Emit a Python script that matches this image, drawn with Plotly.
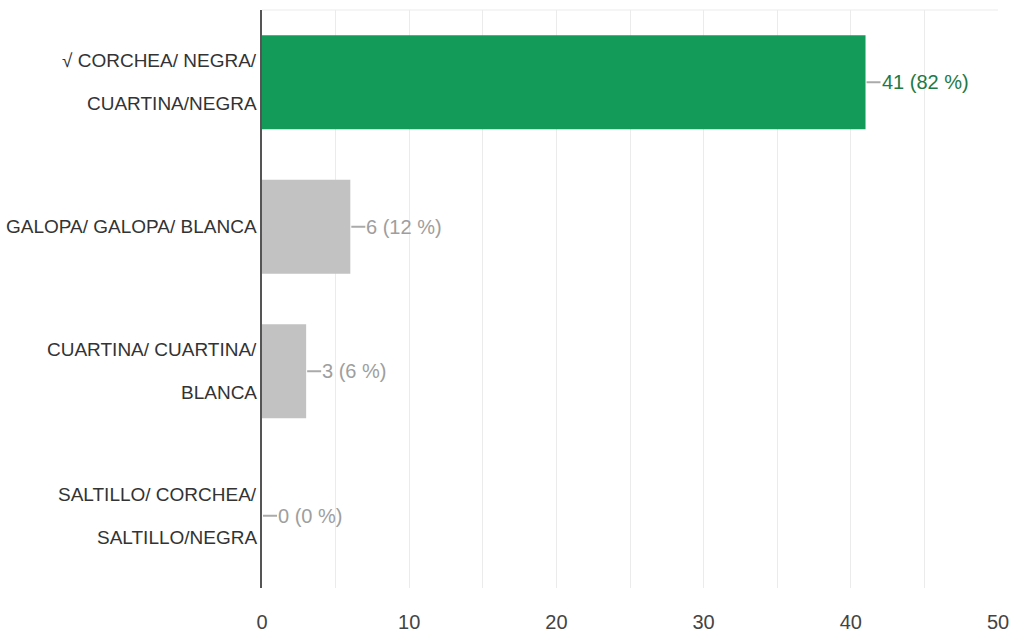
import plotly.graph_objects as go

categories = ["√ CORCHEA/ NEGRA/ CUARTINA/NEGRA",
              "GALOPA/ GALOPA/ BLANCA",
              "CUARTINA/ CUARTINA/ BLANCA",
              "SALTILLO/ CORCHEA/ SALTILLO/NEGRA"]
label_lines = [["√ CORCHEA/ NEGRA/", "CUARTINA/NEGRA"],
               ["GALOPA/ GALOPA/ BLANCA"],
               ["CUARTINA/ CUARTINA/", "BLANCA"],
               ["SALTILLO/ CORCHEA/", "SALTILLO/NEGRA"]]
values = [41, 6, 3, 0]
percents = [82, 12, 6, 0]
bar_colors = ["#139c59", "#c2c2c2", "#c2c2c2", "#c2c2c2"]
label_colors = ["#1e7a45", "#9e9e9e", "#9e9e9e", "#9e9e9e"]
x_ticks = [0, 10, 20, 30, 40, 50]

FONT = "Liberation Sans, Arial, sans-serif"
FS = 19
LINE_GAP = 43

fig = go.Figure(go.Bar(
    y=categories, x=values, orientation="h",
    marker=dict(color=bar_colors, line=dict(width=0)),
    width=0.65, hoverinfo="skip",
))

for c, v, p, col, lines in zip(categories, values, percents, label_colors, label_lines):
    fig.add_shape(type="line", xref="x", yref="y", xsizemode="pixel", xanchor=v,
                  x0=1, x1=15, y0=c, y1=c, line=dict(color="#aaaaaa", width=2))
    fig.add_annotation(x=v, y=c, xref="x", yref="y", text=f"{v} ({p} %)",
                       showarrow=False, xanchor="left", xshift=14,
                       font=dict(family=FONT, size=FS + 1, color=col))
    n = len(lines)
    for i, line in enumerate(lines):
        fig.add_annotation(x=0, y=c, xref="paper", yref="y", text=line,
                           showarrow=False, xanchor="right", xshift=-3,
                           yshift=((n - 1) / 2 - i) * LINE_GAP,
                           font=dict(family=FONT, size=FS, color="#333333"))

fig.add_shape(type="line", xref="paper", yref="paper", x0=0, x1=1, y0=1, y1=1,
              line=dict(color="#ebebeb", width=1), layer="below")

fig.update_layout(
    width=1013, height=638,
    margin=dict(l=262, r=15, t=10, b=50, autoexpand=False),
    paper_bgcolor="white", plot_bgcolor="white",
    showlegend=False,
    font=dict(family=FONT, size=FS, color="#333333"),
    xaxis=dict(range=[0, 50], tickvals=x_ticks,
               showgrid=True, gridcolor="#ebebeb", gridwidth=1,
               zeroline=False, showline=False, automargin=False,
               ticks="outside", ticklen=16, tickcolor="rgba(0,0,0,0)",
               tickfont=dict(family=FONT, size=FS + 1, color="#444444"),
               minor=dict(dtick=5, showgrid=True, gridcolor="#ebebeb")),
    yaxis=dict(autorange="reversed", showgrid=False, zeroline=False,
               showline=True, linecolor="#555555", linewidth=2,
               showticklabels=False, ticks="", automargin=False),
    bargap=0.35,
)

fig.write_html("out.html", config={"displayModeBar": False},
               post_script="document.body.style.margin='0px';")
